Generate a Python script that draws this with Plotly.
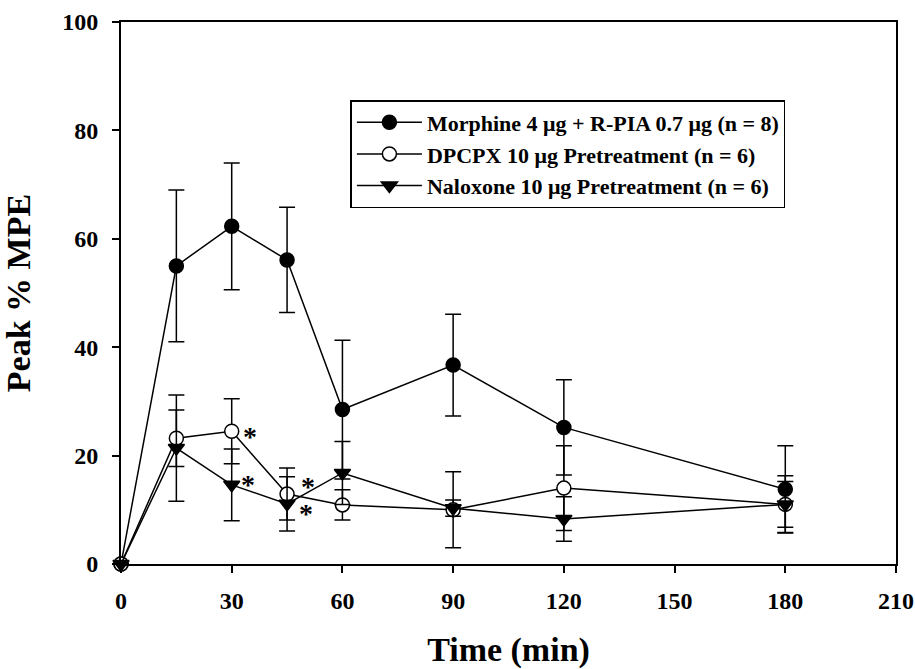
import plotly.graph_objects as go

# ---- data ----
time_min = [0, 15, 30, 45, 60, 90, 120, 180]

morphine = [0, 55.0, 62.3, 56.1, 28.5, 36.7, 25.2, 13.8]
morphine_err = [0, 14.0, 11.7, 9.7, 12.8, 9.4, 8.8, 8.0]

dpcpx = [0, 23.2, 24.5, 12.9, 10.9, 10.0, 14.0, 11.0]
dpcpx_err = [0, 5.2, 6.0, 4.8, 2.8, 7.0, 7.8, 4.2]

naloxone = [0, 21.4, 14.6, 11.1, 16.8, 10.3, 8.3, 11.0]
naloxone_err = [0, 9.8, 6.6, 5.0, 5.8, 1.5, 4.1, 5.3]

names = [
    "Morphine 4 \u03bcg + R-PIA 0.7 \u03bcg (n = 8)",
    "DPCPX 10 \u03bcg Pretreatment (n = 6)",
    "Naloxone 10 \u03bcg Pretreatment (n = 6)",
]

# significance markers (*) next to these time points
sig_dpcpx_times = [30, 45]
sig_naloxone_times = [30, 45]

x_ticks = [0, 30, 60, 90, 120, 150, 180, 210]
y_ticks = [0, 20, 40, 60, 80, 100]

FONT = "Liberation Serif"

fig = go.Figure()

def add_series(y, err, name, symbol, fill):
    fig.add_trace(go.Scatter(
        x=time_min, y=y, name=name, mode="lines+markers",
        line=dict(color="black", width=1.5),
        marker=dict(symbol=symbol, size=14, color=fill,
                    line=dict(color="black", width=1.5)),
        error_y=dict(type="data", array=err, visible=True,
                     color="black", thickness=1.5, width=8),
        cliponaxis=False,
    ))

add_series(morphine, morphine_err, names[0], "circle", "black")
add_series(dpcpx, dpcpx_err, names[1], "circle", "white")
add_series(naloxone, naloxone_err, names[2], "triangle-down", "black")

# label offsets (pixels) for the asterisks
dpcpx_star_shift = {30: (18, -5), 45: (21, 8)}
naloxone_star_shift = {30: (16, 0), 45: (19, -10)}

annotations = []
for t in sig_dpcpx_times:
    i = time_min.index(t)
    xs, ys = dpcpx_star_shift[t]
    annotations.append(dict(x=t, y=dpcpx[i], xref="x", yref="y", text="<b>*</b>",
                            showarrow=False, xshift=xs, yshift=ys,
                            font=dict(family=FONT, size=28, color="black")))
for t in sig_naloxone_times:
    i = time_min.index(t)
    xs, ys = naloxone_star_shift[t]
    annotations.append(dict(x=t, y=naloxone[i], xref="x", yref="y", text="<b>*</b>",
                            showarrow=False, xshift=xs, yshift=ys,
                            font=dict(family=FONT, size=28, color="black")))

fig.update_layout(
    width=915, height=669,
    margin=dict(l=120.5, r=19, t=21.7, b=104.7, autoexpand=False),
    paper_bgcolor="white", plot_bgcolor="white",
    font=dict(family=FONT, color="black"),
    showlegend=True,
    legend=dict(
        x=0.296, y=0.856, xanchor="left", yanchor="top",
        bgcolor="white", bordercolor="black", borderwidth=1.5,
        font=dict(family=FONT, size=22, color="black", weight="bold"),
        itemwidth=65,
        tracegroupgap=0,
    ),
    annotations=annotations,
    xaxis=dict(
        range=[0, 210], tickvals=x_ticks, ticktext=[str(v) for v in x_ticks],
        showline=True, linecolor="black", linewidth=2, mirror=True,
        ticks="outside", ticklen=7, tickwidth=1.5, tickcolor="black",
        showgrid=False, zeroline=False, automargin=False,
        tickfont=dict(family=FONT, size=24, weight="bold"),
        ticklabelstandoff=7,
        title=dict(text="<b>Time (min)</b>", font=dict(family=FONT, size=34), standoff=30),
    ),
    yaxis=dict(
        range=[0, 100], tickvals=y_ticks, ticktext=[str(v) for v in y_ticks],
        showline=True, linecolor="black", linewidth=2, mirror=True,
        ticks="outside", ticklen=7, tickwidth=1.5, tickcolor="black",
        showgrid=False, zeroline=False, automargin=False,
        tickfont=dict(family=FONT, size=24, weight="bold"),
        ticklabelstandoff=9,
        title=dict(text="<b>Peak % MPE</b>", font=dict(family=FONT, size=34), standoff=25),
    ),
)

fig.write_html(
    "out.html",
    config={"displayModeBar": False},
    post_script="document.body.style.margin='0';document.body.style.overflow='hidden';",
)
